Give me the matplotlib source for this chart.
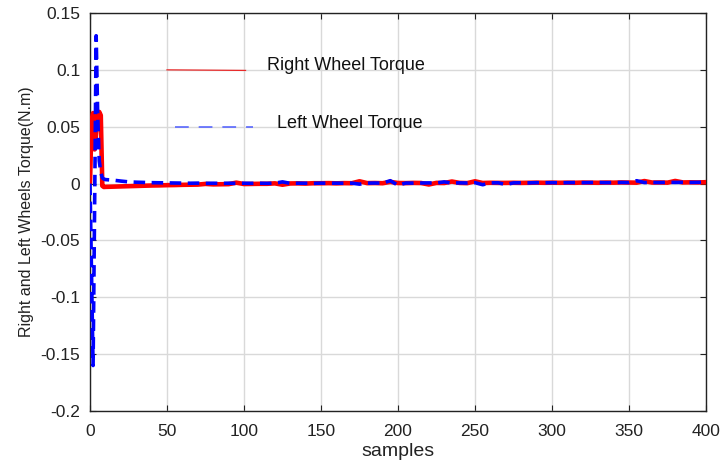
import matplotlib
matplotlib.use("Agg")
import matplotlib.pyplot as plt
import numpy as np

plt.rcParams['font.family'] = ['Liberation Sans', 'DejaVu Sans']

# ---- data ----
red_early_x = [0, 1, 2, 3, 4, 5, 6, 7, 8, 9, 10]
red_early_y = [0.0, 0.055, 0.062, 0.03, 0.045, 0.060, 0.063, 0.060, -0.002, -0.003, -0.0029]
red_late_x = list(range(15, 401, 5))
red_late_y = [-0.0027, -0.0025, -0.0023, -0.0021, -0.0019, -0.0017, -0.0016, -0.0014, -0.0013, -0.0011,
              -0.0010, -0.0009, -0.0003, -0.0007, -0.0006, -0.0005, 0.0008, -0.0004, -0.0003, -0.0002,
              -0.0002, 0.0002, -0.0010, 0.0001, 0.0002, 0.0000, 0.0003, 0.0003, 0.0004, 0.0002,
              0.0004, 0.0003, 0.0020, 0.0004, 0.0005, 0.0003, 0.0015, 0.0005, 0.0004, 0.0006,
              0.0005, -0.0008, 0.0006, 0.0005, 0.0018, 0.0006, 0.0004, 0.0020, 0.0005, 0.0007,
              0.0006, 0.0006, 0.0007, 0.0006, 0.0007, 0.0008, 0.0007, 0.0008, 0.0007, 0.0008,
              0.0007, 0.0009, 0.0008, 0.0007, 0.0009, 0.0008, 0.0010, 0.0009, 0.0008, 0.0022,
              0.0009, 0.0010, 0.0008, 0.0023, 0.0010, 0.0011, 0.0010, 0.0012]

blue_early_x = [0, 1, 2, 3, 4, 5, 6, 7, 8, 9, 10]
blue_early_y = [0.0, -0.08, -0.16, -0.02, 0.13, 0.06, 0.02, 0.010, 0.005, 0.004, 0.0035]
blue_late_x = list(range(15, 401, 5))
blue_late_y = [0.0030, 0.0022, 0.0015, 0.0012, 0.0010, 0.0008, 0.0007, 0.0006, 0.0005, 0.0004,
               0.0003, 0.0004, 0.0002, 0.0003, 0.0002, 0.0003, 0.0002, 0.0003, 0.0002, 0.0003,
               0.0002, 0.0003, 0.0015, 0.0002, 0.0003, 0.0003, 0.0002, 0.0004, 0.0003, 0.0004,
               0.0003, 0.0004, -0.0005, 0.0004, 0.0005, 0.0004, 0.0025, -0.0015, 0.0005, 0.0004,
               0.0005, 0.0006, 0.0005, 0.0015, 0.0004, 0.0006, 0.0005, 0.0008, -0.0010, 0.0006,
               0.0007, -0.0008, 0.0006, 0.0007, 0.0006, 0.0008, 0.0007, 0.0008, 0.0007, 0.0008,
               0.0009, 0.0008, 0.0009, 0.0010, 0.0008, 0.0009, 0.0010, 0.0009, 0.0025, 0.0009,
               0.0010, 0.0009, 0.0011, 0.0010, 0.0011, 0.0010, 0.0011, 0.0012]

red_x = red_early_x + red_late_x
red_y = red_early_y + red_late_y
blue_x = blue_early_x + blue_late_x
blue_y = blue_early_y + blue_late_y

# manual "legend" marks
leg_red_x = [50, 101]
leg_red_y = [0.1, 0.0995]
leg_blue_x = [55, 106]
leg_blue_y = [0.05, 0.05]
label_red = "Right Wheel Torque"
label_blue = "Left Wheel Torque"

xticks = [0, 50, 100, 150, 200, 250, 300, 350, 400]
yticks = [-0.2, -0.15, -0.1, -0.05, 0, 0.05, 0.1, 0.15]
ytick_labels = ["-0.2", "-0.15", "-0.1", "-0.05", "0", "0.05", "0.1", "0.15"]

fig = plt.figure(figsize=(7.23, 4.62), dpi=100)
ax = fig.add_axes([90/723, 51/462, 616/723, 398/462])

ax.plot(red_x, red_y, color='#ff0000', lw=3.3, solid_joinstyle='round', solid_capstyle='round', zorder=3)
ax.plot(blue_x, blue_y, color='#0000ff', lw=2.6, linestyle=(0, (3.2, 1.8)), zorder=4)

ax.plot(leg_red_x, leg_red_y, color='#e82828', lw=0.9, zorder=3)
ax.plot(leg_blue_x, leg_blue_y, color='#4d5cff', lw=1.1, linestyle=(0, (9, 6.5)), zorder=3)
ax.text(115, 0.104, label_red, fontsize=13, va='center', ha='left', color='#111111')
ax.text(121.5, 0.053, label_blue, fontsize=13, va='center', ha='left', color='#111111')

ax.set_xlim(0, 400)
ax.set_ylim(-0.2, 0.15)
ax.set_xticks(xticks)
ax.set_xticklabels([str(v) for v in xticks])
ax.set_yticks(yticks)
ax.set_yticklabels(ytick_labels)
ax.tick_params(direction='in', length=4, width=0.8, labelsize=12.5, colors='#222222',
               top=True, right=True)
ax.tick_params(axis='x', pad=9)
ax.tick_params(axis='y', pad=7)
ax.grid(True, color='#d9d9d9', lw=1.0)
ax.set_axisbelow(True)
for s in ax.spines.values():
    s.set_linewidth(1.0)
    s.set_color('#222222')

ax.set_xlabel('samples', fontsize=14, color='#222222', labelpad=3)
ax.set_ylabel('Right and Left Wheels Torque(N.m)', fontsize=11.5, color='#222222', labelpad=5)

fig.savefig('out.png', dpi=100)
